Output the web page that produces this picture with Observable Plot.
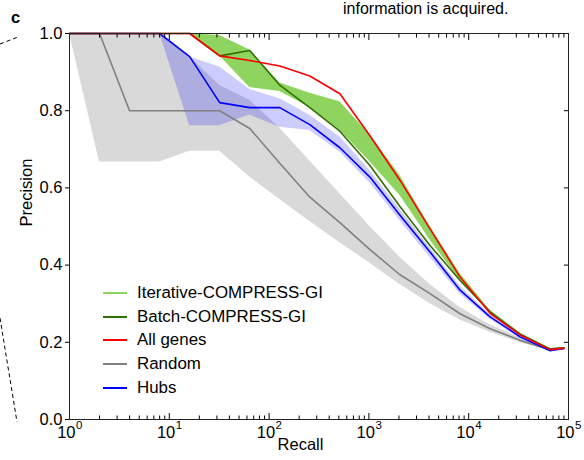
<!DOCTYPE html>
<html>
<head>
<meta charset="utf-8">
<script src="https://cdn.jsdelivr.net/npm/d3@7"></script>
<script src="https://cdn.jsdelivr.net/npm/@observablehq/plot@0.6"></script>
<style>
  html, body { margin: 0; padding: 0; background: #fff; }
  #wrap { position: relative; width: 584px; height: 460px; overflow: hidden; font-family: "Liberation Sans", Arial, sans-serif; }
  #wrap svg.plot { position: absolute; left: 0; top: 0; }
  #legend { position: absolute; left: 103px; top: 281px; font-size: 16.9px; color: #000; }
  #legend .row { display: flex; align-items: center; height: 23.75px; }
  #legend .sw { width: 24px; height: 2px; margin-right: 10px; }
  #decor { position: absolute; left: 0; top: 0; pointer-events: none; }
</style>
</head>
<body>
<div id="wrap"></div>
<script>
// ---- data ----
const recall     = [1, 2, 4, 8, 16, 32, 64, 128, 256, 512, 1024, 2048, 4096, 8192, 16384, 32768, 65536, 90000];
const allGenes   = [1, 1, 1, 1, 1, 0.942, 0.930, 0.916, 0.890, 0.844, 0.735, 0.620, 0.494, 0.369, 0.275, 0.219, 0.181, 0.185];
const batch      = [1, 1, 1, 1, 1, 0.942, 0.956, 0.866, 0.808, 0.747, 0.658, 0.552, 0.451, 0.360, 0.279, 0.221, 0.183, 0.186];
const iterLow    = [null, null, null, null, 1, 0.942, 0.860, 0.850, 0.808, 0.750, 0.668, 0.580, 0.465, 0.360, 0.275, 0.218, 0.181, 0.185];
const iterHigh   = [null, null, null, null, 1, 0.995, 0.957, 0.872, 0.845, 0.823, 0.738, 0.632, 0.500, 0.378, 0.283, 0.224, 0.183, 0.186];
const random     = [1, 1, 0.8, 0.8, 0.8, 0.8, 0.754, 0.664, 0.576, 0.510, 0.440, 0.375, 0.326, 0.274, 0.235, 0.205, 0.181, 0.184];
const randomLow  = [1, 0.667, 0.667, 0.667, 0.695, 0.695, 0.628, 0.570, 0.513, 0.458, 0.405, 0.350, 0.300, 0.258, 0.226, 0.199, 0.178, 0.182];
const randomHigh = [1, 1, 1, 1, 0.940, 0.865, 0.827, 0.755, 0.670, 0.585, 0.500, 0.420, 0.350, 0.290, 0.245, 0.212, 0.184, 0.186];
const hubs       = [1, 1, 1, 1, 0.940, 0.821, 0.808, 0.808, 0.764, 0.704, 0.628, 0.529, 0.434, 0.335, 0.266, 0.214, 0.178, 0.184];
const hubsLow    = [null, null, null, 1, 0.761, 0.761, 0.789, 0.757, 0.749, 0.693, 0.613, 0.515, 0.420, 0.325, 0.260, 0.210, 0.176, 0.182];
const hubsHigh   = [null, null, null, 1, 0.939, 0.913, 0.855, 0.831, 0.788, 0.732, 0.645, 0.545, 0.445, 0.345, 0.272, 0.218, 0.180, 0.186];

const xMajorTicks = [1, 10, 100, 1000, 10000, 100000];
const xExponents  = ["0", "1", "2", "3", "4", "5"];
const yTicks      = [0, 0.2, 0.4, 0.6, 0.8, 1.0];
const seriesNames = ["Iterative-COMPRESS-GI", "Batch-COMPRESS-GI", "All genes", "Random", "Hubs"];
const seriesColors = ["#8fd45f", "#2f7000", "#ff0000", "#808080", "#0000ff"];

// ---- build table ----
const table = recall.map((r, i) => ({
  recall: r, allGenes: allGenes[i], batch: batch[i], iterLow: iterLow[i], iterHigh: iterHigh[i],
  random: random[i], randomLow: randomLow[i], randomHigh: randomHigh[i],
  hubs: hubs[i], hubsLow: hubsLow[i], hubsHigh: hubsHigh[i]
}));
const xMinorTicks = [];
for (let k = 0; k < 5; k++) for (let m = 2; m <= 9; m++) xMinorTicks.push(m * Math.pow(10, k));
const majorLabels = xMajorTicks.map((v, i) => ({v, e: xExponents[i]}));

const chart = Plot.plot({
  width: 584,
  height: 460,
  marginLeft: 69,
  marginRight: 16,
  marginTop: 33,
  marginBottom: 41,
  style: {fontFamily: "'Liberation Sans', Arial, sans-serif", fontSize: "16.5px", color: "#000", background: "transparent"},
  x: {type: "log", domain: [1, 100000]},
  y: {domain: [0, 1]},
  marks: [
    Plot.areaY(table, {x: "recall", y1: "randomLow", y2: "randomHigh", fill: "#d9d9d9"}),
    Plot.areaY(table, {x: "recall", y1: "hubsLow", y2: "hubsHigh", fill: "#0000ff", fillOpacity: 0.2}),
    Plot.areaY(table, {x: "recall", y1: "iterLow", y2: "iterHigh", fill: "#8fd45f"}),
    Plot.lineY(table, {x: "recall", y: "random", stroke: "#808080", strokeWidth: 1.6}),
    Plot.lineY(table, {x: "recall", y: "hubs", stroke: "#0000ff", strokeWidth: 1.6}),
    Plot.lineY(table, {x: "recall", y: "batch", stroke: "#2f7000", strokeWidth: 1.6}),
    Plot.lineY(table, {x: "recall", y: "allGenes", stroke: "#ff0000", strokeWidth: 1.6}),
    Plot.axisY({anchor: "left", ticks: yTicks, tickSize: 4, tickPadding: 3, tickFormat: d => d.toFixed(1), label: null}),
    Plot.axisY({anchor: "right", ticks: yTicks, tickSize: -5, tickFormat: () => "", label: null}),
    Plot.axisX({anchor: "bottom", ticks: xMajorTicks, tickSize: -6, tickFormat: () => "", label: null}),
    Plot.axisX({anchor: "bottom", ticks: xMinorTicks, tickSize: -3.5, tickFormat: () => "", label: null}),
    Plot.axisX({anchor: "top", ticks: xMajorTicks, tickSize: -6, tickFormat: () => "", label: null}),
    Plot.axisX({anchor: "top", ticks: xMinorTicks, tickSize: -3.5, tickFormat: () => "", label: null}),
    Plot.frame({stroke: "#222", strokeWidth: 1}),
    Plot.text(majorLabels, {x: "v", text: () => "10", frameAnchor: "bottom", textAnchor: "end", dx: 6, dy: 18, fontSize: 16.5}),
    Plot.text(majorLabels, {x: "v", text: "e", frameAnchor: "bottom", textAnchor: "start", dx: 6.5, dy: 9, fontSize: 11.5}),
    Plot.text(["Recall"], {text: d => d, frameAnchor: "bottom", dx: -18.5, dy: 30, fontSize: 16.5}),
    Plot.text(["Precision"], {text: d => d, frameAnchor: "left", rotate: -90, dx: -43, fontSize: 16.5})
  ]
});
chart.classList.add("plot");
const wrap = document.getElementById("wrap");
wrap.appendChild(chart);

// legend (inside plot area)
const legend = document.createElement("div");
legend.id = "legend";
seriesNames.forEach((name, i) => {
  const row = document.createElement("div");
  row.className = "row";
  const sw = document.createElement("span");
  sw.className = "sw";
  sw.style.background = seriesColors[i];
  const t = document.createElement("span");
  t.textContent = name;
  row.appendChild(sw);
  row.appendChild(t);
  legend.appendChild(row);
});
wrap.appendChild(legend);

// decorations from the surrounding figure (panel letter, caption fragment, connector lines)
const ns = "http://www.w3.org/2000/svg";
const decor = document.createElementNS(ns, "svg");
decor.setAttribute("id", "decor");
decor.setAttribute("width", "584");
decor.setAttribute("height", "460");
decor.innerHTML = `
  <text x="15.5" y="22.5" text-anchor="middle" font-family="'Liberation Sans', Arial, sans-serif" font-weight="bold" font-size="16.5">c</text>
  <text x="343" y="14" font-family="'Liberation Sans', Arial, sans-serif" font-size="16">information is acquired.</text>
  <line x1="0" y1="44" x2="18" y2="37" stroke="#000" stroke-width="1" stroke-dasharray="4,3"/>
  <line x1="0" y1="318" x2="17" y2="422" stroke="#000" stroke-width="1" stroke-dasharray="4,3"/>
`;
wrap.appendChild(decor);
</script>
</body>
</html>
